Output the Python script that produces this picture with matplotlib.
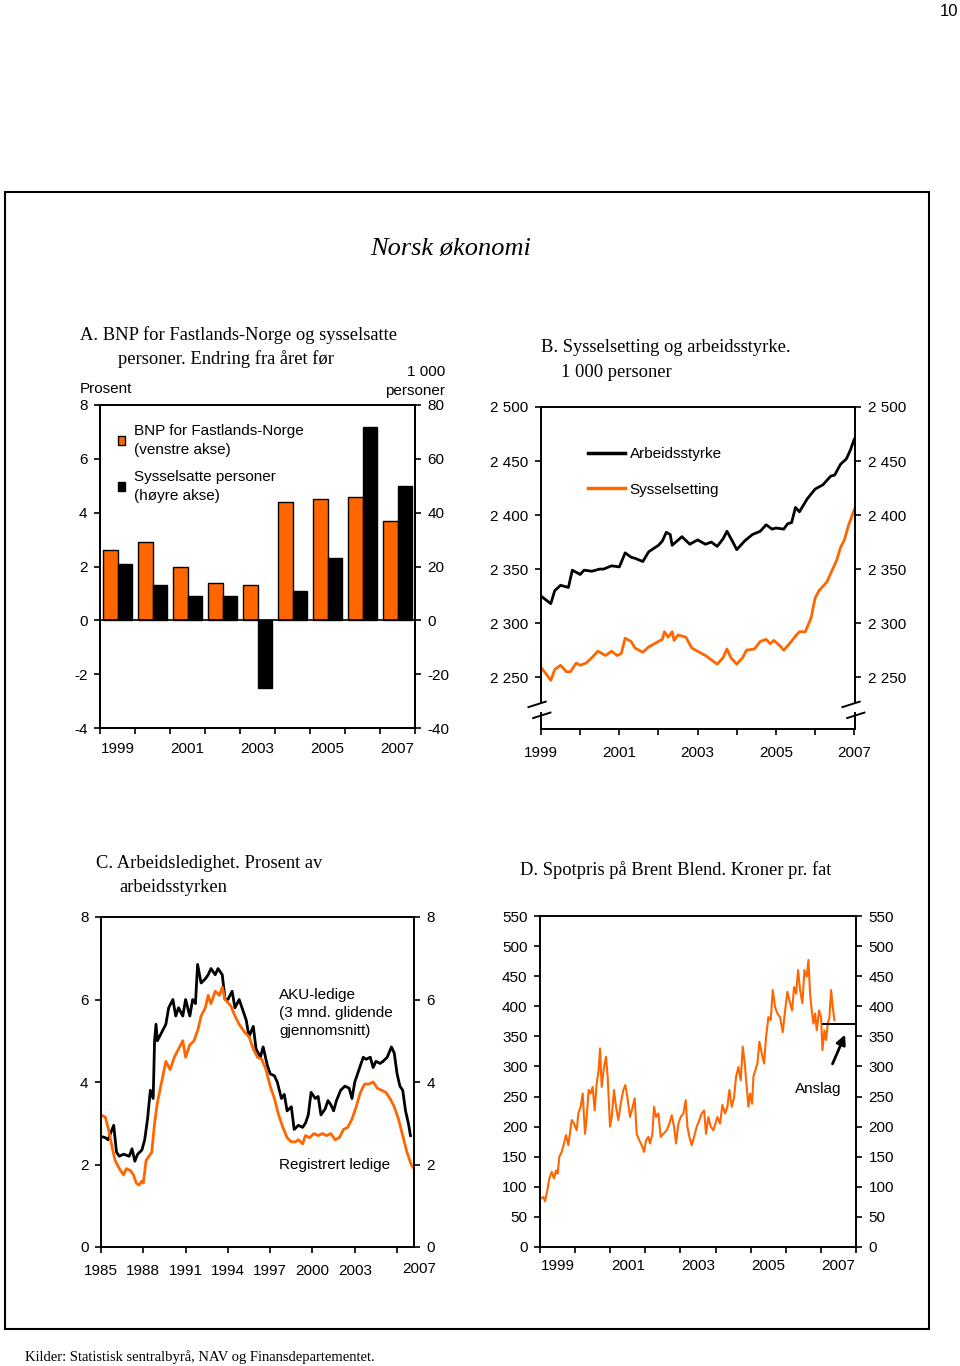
import numpy as np
import matplotlib
matplotlib.use("Agg")
import matplotlib.pyplot as plt
from matplotlib.patches import Patch, Rectangle
from matplotlib.lines import Line2D

W, H = 960, 1366
ORANGE = "#FF6600"
SANS = "Liberation Sans"
SERIF = "Liberation Serif"

# ---- panel A: BNP / sysselsatte, endring fra aaret foer
A_YEARS = ["1999", "2000", "2001", "2002", "2003", "2004", "2005", "2006", "2007"]
A_BNP = [2.6, 2.9, 2.0, 1.4, 1.3, 4.4, 4.5, 4.6, 3.7]
A_SYSS = [21, 13, 9, 9, -25, 11, 23, 72, 50]
A_LEFT_TICKS = [-4, -2, 0, 2, 4, 6, 8]
A_RIGHT_TICKS = [-40, -20, 0, 20, 40, 60, 80]

# ---- panel B: sysselsetting og arbeidsstyrke (1000 personer)
B_ARB_T = [1999.0, 1999.25, 1999.35, 1999.5, 1999.7, 1999.8, 2000.0, 2000.1, 2000.3,
           2000.5, 2000.6, 2000.8, 2001.0, 2001.15, 2001.3, 2001.4, 2001.6, 2001.75,
           2002.0, 2002.1, 2002.2, 2002.3, 2002.35, 2002.6, 2002.8, 2003.0, 2003.2,
           2003.35, 2003.5, 2003.65, 2003.75, 2003.9, 2004.0, 2004.2, 2004.4, 2004.6,
           2004.75, 2004.9, 2005.0, 2005.2, 2005.3, 2005.4, 2005.5, 2005.6, 2005.8,
           2006.0, 2006.2, 2006.4, 2006.5, 2006.65, 2006.8, 2006.9, 2007.0]
B_ARB = [2325, 2318, 2330, 2335, 2333, 2349, 2345, 2349, 2348,
         2350, 2350, 2353, 2352, 2365, 2361, 2360, 2357, 2366,
         2372, 2376, 2384, 2382, 2372, 2380, 2373, 2377, 2373,
         2375, 2371, 2378, 2385, 2375, 2368, 2376, 2382, 2385,
         2391, 2387, 2388, 2387, 2392, 2393, 2407, 2403, 2415,
         2424, 2428, 2436, 2437, 2447, 2452, 2460, 2470]
B_SYS_T = [1999.0, 1999.15, 1999.25, 1999.35, 1999.5, 1999.65, 1999.75, 1999.9, 2000.0,
           2000.15, 2000.3, 2000.45, 2000.65, 2000.8, 2000.95, 2001.05, 2001.15, 2001.3,
           2001.4, 2001.6, 2001.75, 2001.95, 2002.1, 2002.15, 2002.25, 2002.35, 2002.4,
           2002.5, 2002.7, 2002.85, 2003.0, 2003.2, 2003.35, 2003.5, 2003.65, 2003.75,
           2003.85, 2004.0, 2004.15, 2004.25, 2004.45, 2004.6, 2004.75, 2004.85, 2004.95,
           2005.1, 2005.2, 2005.35, 2005.5, 2005.6, 2005.75, 2005.9, 2006.0, 2006.1,
           2006.3, 2006.45, 2006.55, 2006.65, 2006.75, 2006.85, 2007.0]
B_SYS = [2259, 2252, 2247, 2257, 2261, 2255, 2255, 2263, 2261,
         2263, 2268, 2274, 2270, 2274, 2270, 2272, 2286, 2283,
         2277, 2273, 2278, 2282, 2285, 2292, 2287, 2292, 2284,
         2289, 2287, 2277, 2274, 2270, 2266, 2262, 2268, 2276,
         2268, 2262, 2268, 2275, 2276, 2283, 2285, 2281, 2284,
         2279, 2275, 2281, 2288, 2292, 2292, 2305, 2323, 2330,
         2338, 2350, 2358, 2370, 2377, 2390, 2405]
B_TICKS = [2250, 2300, 2350, 2400, 2450, 2500]
B_TICKLABELS = ["2 250", "2 300", "2 350", "2 400", "2 450", "2 500"]
B_YEARS = [1999, 2000, 2001, 2002, 2003, 2004, 2005, 2006, 2007]

# ---- panel C: arbeidsledighet, prosent av arbeidsstyrken
C_AKU_T = [1985.0, 1985.3, 1985.5, 1985.9, 1986.1, 1986.3, 1986.6, 1987.0, 1987.2, 1987.4,
           1987.6, 1987.9, 1988.1, 1988.3, 1988.5, 1988.7, 1988.8, 1988.9, 1989.0, 1989.3,
           1989.6, 1989.8, 1990.1, 1990.3, 1990.5, 1990.8, 1991.0, 1991.3, 1991.5, 1991.7,
           1991.85, 1992.1, 1992.4, 1992.6, 1992.8, 1993.1, 1993.3, 1993.6, 1993.8, 1994.0,
           1994.3, 1994.5, 1994.8, 1995.0, 1995.3, 1995.5, 1995.8, 1996.0, 1996.3, 1996.5,
           1996.8, 1997.0, 1997.3, 1997.5, 1997.8, 1998.0, 1998.2, 1998.5, 1998.7, 1999.0,
           1999.3, 1999.5, 1999.7, 1999.9, 2000.2, 2000.4, 2000.6, 2000.9, 2001.1, 2001.3,
           2001.5, 2001.7, 2002.0, 2002.3, 2002.6, 2002.8, 2003.0, 2003.3, 2003.6, 2003.8,
           2004.1, 2004.3, 2004.5, 2004.8, 2005.0, 2005.3, 2005.6, 2005.8, 2006.0, 2006.2,
           2006.4, 2006.6, 2006.8, 2006.95]
C_AKU = [2.68, 2.65, 2.6, 2.95, 2.3, 2.2, 2.25, 2.2, 2.38, 2.08,
         2.25, 2.35, 2.6, 3.1, 3.8, 3.6, 5.0, 5.4, 5.0, 5.2,
         5.4, 5.8, 6.0, 5.6, 5.8, 5.6, 6.0, 5.6, 6.0, 5.9,
         6.85, 6.4, 6.5, 6.6, 6.75, 6.6, 6.75, 6.6, 6.0, 6.0,
         6.2, 5.8, 6.0, 5.8, 5.5, 5.1, 5.35, 4.8, 4.6, 4.85,
         4.4, 4.2, 4.15, 4.0, 3.6, 3.7, 3.3, 3.4, 2.85, 2.95,
         2.9, 3.0, 3.2, 3.75, 3.6, 3.65, 3.2, 3.35, 3.55, 3.45,
         3.3, 3.55, 3.8, 3.9, 3.85, 3.6, 4.0, 4.3, 4.6, 4.55,
         4.6, 4.35, 4.5, 4.45, 4.5, 4.6, 4.85, 4.7, 4.2, 3.9,
         3.8, 3.3, 3.0, 2.7]
C_REG_T = [1985.0, 1985.3, 1985.5, 1985.8, 1986.0, 1986.3, 1986.6, 1986.8, 1987.1, 1987.3,
           1987.5, 1987.7, 1987.9, 1988.0, 1988.2, 1988.4, 1988.6, 1988.8, 1989.0, 1989.3,
           1989.6, 1989.9, 1990.2, 1990.5, 1990.8, 1991.0, 1991.3, 1991.6, 1991.9, 1992.1,
           1992.4, 1992.6, 1992.8, 1993.1, 1993.4, 1993.6, 1993.8, 1994.2, 1994.5, 1994.8,
           1995.2, 1995.5, 1995.8, 1996.1, 1996.4, 1996.7, 1997.0, 1997.3, 1997.6, 1997.9,
           1998.2, 1998.5, 1998.8, 1999.0, 1999.3, 1999.5, 1999.8, 2000.1, 2000.4, 2000.7,
           2001.0, 2001.3, 2001.6, 2001.9, 2002.2, 2002.5, 2002.8, 2003.1, 2003.4, 2003.7,
           2004.0, 2004.3, 2004.6, 2004.9, 2005.2, 2005.5, 2005.8, 2006.1, 2006.4, 2006.7,
           2007.0, 2007.2]
C_REG = [3.2, 3.15, 2.9, 2.4, 2.1, 1.9, 1.75, 1.9, 1.85, 1.75,
         1.55, 1.5, 1.6, 1.55, 2.1, 2.2, 2.3, 3.0, 3.5, 4.0,
         4.5, 4.3, 4.6, 4.8, 5.0, 4.6, 4.9, 5.0, 5.3, 5.6,
         5.8, 6.1, 5.9, 6.2, 6.1, 6.3, 6.0, 5.85, 5.6, 5.4,
         5.2, 5.1, 4.8, 4.6, 4.55, 4.3, 3.9, 3.6, 3.2, 2.9,
         2.65, 2.55, 2.55, 2.6, 2.5, 2.7, 2.65, 2.75, 2.7, 2.75,
         2.7, 2.75, 2.6, 2.65, 2.85, 2.9, 3.1, 3.4, 3.75, 3.95,
         3.95, 4.0, 3.85, 3.8, 3.75, 3.6, 3.4, 3.1, 2.7, 2.3,
         2.0, 1.9]
C_TICKS = [1985, 1988, 1991, 1994, 1997, 2000, 2003, 2006]
C_TICKLABELS = ["1985", "1988", "1991", "1994", "1997", "2000", "2003", ""]
C_YTICKS = [0, 2, 4, 6, 8]

# ---- panel D: spotpris paa Brent Blend, kroner pr. fat
D_X = [150, 160, 165, 172, 178, 185, 192, 198, 203, 208, 215, 222, 228, 235, 245, 252,
       260, 265, 272, 278, 285, 290, 296, 302, 308, 314, 320, 326, 330, 335, 342, 348,
       353, 360, 365, 372, 378, 385, 392, 400, 406, 412, 420, 428, 434, 440, 448, 455,
       462, 468, 475, 480, 487, 492, 498, 505, 512, 520, 530, 538, 545, 552, 558, 565,
       572, 580, 587, 592, 598, 605, 612, 620, 628, 635, 642, 648, 655, 662, 670, 676,
       682, 690, 697, 705, 712, 718, 725, 732, 738, 745, 752, 758, 764, 770, 775, 780,
       786, 790, 796, 802, 808, 815, 822, 828, 835, 842, 848, 855, 862, 870, 878, 885,
       892, 900, 906, 912, 918, 924, 930, 937, 943, 950, 955, 960, 965, 970, 975, 980,
       987, 993, 997, 1003, 1008, 1013, 1018, 1023, 1028, 1033]
D_T = [1999 + (x - 150) / 105.3 for x in D_X]
D_PRICE = [80, 83, 76, 94, 114, 125, 114, 127, 122, 150, 158, 172, 186, 169, 211, 205,
           194, 222, 233, 255, 188, 216, 261, 255, 266, 227, 272, 294, 330, 266, 299, 316,
           283, 200, 216, 261, 233, 211, 238, 261, 269, 249, 216, 233, 247, 188, 177, 169,
           158, 177, 183, 172, 188, 233, 216, 222, 183, 188, 194, 205, 219, 200, 172, 205,
           216, 222, 244, 200, 183, 169, 183, 200, 211, 222, 227, 188, 216, 200, 194, 205,
           216, 205, 236, 222, 233, 261, 233, 249, 283, 299, 277, 333, 305, 266, 233, 255,
           238, 283, 294, 305, 341, 322, 305, 349, 382, 377, 427, 399, 388, 382, 357, 393,
           424, 405, 393, 432, 421, 460, 427, 405, 460, 449, 477, 421, 393, 371, 388, 360,
           393, 382, 327, 360, 344, 371, 382, 427, 399, 377]
D_ANSLAG_T = [2007.05, 2008.0]
D_ANSLAG = [371, 371]
D_YTICKS = [0, 50, 100, 150, 200, 250, 300, 350, 400, 450, 500, 550]
D_YEARS = [1999, 2001, 2003, 2005, 2007]


def px(x, y):
    return x / W, 1 - y / H


def axes_at(x0, y0, x1, y1):
    return fig.add_axes([x0 / W, 1 - y1 / H, (x1 - x0) / W, (y1 - y0) / H])


def style(ax):
    for s in ax.spines.values():
        s.set_linewidth(1.4)
    ax.tick_params(axis="both", which="major", direction="out", length=4, width=1.2,
                   labelsize=11, pad=5)


plt.rcParams["font.family"] = SANS
plt.rcParams["axes.unicode_minus"] = False
fig = plt.figure(figsize=(W / 100, H / 100), dpi=100)

# page frame, titles
fig.patches.append(Rectangle(px(5, 1329), 924 / W, 1137 / H, transform=fig.transFigure,
                             fill=False, lw=1.5, edgecolor="black"))
fig.text(*px(451, 249), "Norsk økonomi", family=SERIF, style="italic", size=19,
         ha="center", va="center")
fig.text(*px(958, 11), "10", family=SANS, size=12, ha="right", va="center")
fig.text(*px(25, 1357), "Kilder: Statistisk sentralbyrå, NAV og Finansdepartementet.",
         family=SERIF, size=10.5, ha="left", va="center")

TS = 13.3
fig.text(*px(80, 335), "A. BNP for Fastlands-Norge og sysselsatte", family=SERIF, size=TS, va="center")
fig.text(*px(118, 359), "personer. Endring fra året før", family=SERIF, size=TS, va="center")
fig.text(*px(541, 348), "B. Sysselsetting og arbeidsstyrke.", family=SERIF, size=TS, va="center")
fig.text(*px(561, 372), "1 000 personer", family=SERIF, size=TS, va="center")
fig.text(*px(96, 863), "C. Arbeidsledighet. Prosent av", family=SERIF, size=TS, va="center")
fig.text(*px(119, 887), "arbeidsstyrken", family=SERIF, size=TS, va="center")
fig.text(*px(520, 870), "D. Spotpris på Brent Blend. Kroner pr. fat", family=SERIF, size=TS, va="center")

# ---------------- A
axA = axes_at(100, 405, 415, 728)
axA2 = axA.twinx()
idx = np.arange(len(A_YEARS))
axA.bar(idx - 0.21, A_BNP, width=0.42, color=ORANGE, edgecolor="black", linewidth=1, zorder=3)
axA2.bar(idx + 0.21, A_SYSS, width=0.42, color="black", edgecolor="black", linewidth=1, zorder=3)
axA.set_xlim(-0.5, len(A_YEARS) - 0.5)
axA.set_ylim(-4, 8)
axA2.set_ylim(-40, 80)
axA.set_yticks(A_LEFT_TICKS)
axA2.set_yticks(A_RIGHT_TICKS)
axA.axhline(0, color="black", lw=1.2, zorder=4)
axA.set_xticks(np.arange(len(A_YEARS) + 1) - 0.5)
axA.set_xticklabels([])
axA.set_xticks(idx[::2], minor=True)
axA.set_xticklabels(A_YEARS[::2], minor=True)
style(axA)
style(axA2)
axA.tick_params(axis="x", which="minor", length=0, labelsize=11, pad=10)
axA.text(-0.065, 1.028, "Prosent", transform=axA.transAxes, size=11, ha="left", va="bottom")
axA2.text(1.095, 1.022, "1 000\npersoner", transform=axA.transAxes, size=11, ha="right",
          va="bottom", linespacing=1.4)
legA = axA.legend(handles=[Patch(facecolor=ORANGE, edgecolor="black", lw=1),
                           Patch(facecolor="black", edgecolor="black")],
                  labels=["BNP for Fastlands-Norge\n(venstre akse)",
                          "Sysselsatte personer\n(høyre akse)"],
                  loc="upper left", bbox_to_anchor=(0.012, 0.985), frameon=False,
                  handlelength=0.5, handleheight=0.5, handletextpad=0.6,
                  labelspacing=0.9, fontsize=11)
for t in legA.get_texts():
    t.set_linespacing(1.45)

# ---------------- B
axB = axes_at(541, 407, 855, 729)
axB.plot(B_ARB_T, B_ARB, color="black", lw=2)
axB.plot(B_SYS_T, B_SYS, color=ORANGE, lw=2)
axB.set_xlim(1999, 2007.02)
axB.set_ylim(2202, 2500)
axB.set_yticks(B_TICKS)
axB.set_yticklabels(B_TICKLABELS)
axB.set_xticks(B_YEARS)
axB.set_xticklabels([str(y) if (y - 1999) % 2 == 0 else "" for y in B_YEARS])
axB.tick_params(right=True, labelright=True)
style(axB)
axB.tick_params(axis="x", pad=8)
axB.spines["left"].set_visible(False)
axB.spines["right"].set_visible(False)
for xs in (0.0, 1.0):
    axB.plot([xs, xs], [0.0, 0.05], transform=axB.transAxes, color="black", lw=1.4, clip_on=False)
    axB.plot([xs, xs], [0.083, 1.0], transform=axB.transAxes, color="black", lw=1.4, clip_on=False)
    axB.plot([xs - 0.04, xs + 0.015], [0.068, 0.085], transform=axB.transAxes, color="black",
             lw=1.4, clip_on=False)
    axB.plot([xs - 0.025, xs + 0.03], [0.034, 0.051], transform=axB.transAxes, color="black",
             lw=1.4, clip_on=False)
axB.legend(handles=[Line2D([], [], color="black", lw=2.5), Line2D([], [], color=ORANGE, lw=2.5)],
           labels=["Arbeidsstyrke", "Sysselsetting"], loc="upper left",
           bbox_to_anchor=(0.107, 0.918), frameon=False, handlelength=2.4,
           handletextpad=0.3, labelspacing=1.4, fontsize=11)

# ---------------- C
axC = axes_at(101, 917, 414, 1247)
axC.plot(C_AKU_T, C_AKU, color="black", lw=2)
axC.plot(C_REG_T, C_REG, color=ORANGE, lw=2)
axC.set_xlim(1985, 2007.2)
axC.set_ylim(0, 8)
axC.set_yticks(C_YTICKS)
axC.set_xticks(C_TICKS)
axC.set_xticklabels(C_TICKLABELS)
axC.tick_params(right=True, labelright=True)
style(axC)
axC.tick_params(axis="x", pad=8)
axC.text(1.015, -0.045, "2007", transform=axC.transAxes, size=11, ha="center", va="top")
axC.text(0.57, 0.785, "AKU-ledige\n(3 mnd. glidende\ngjennomsnitt)", transform=axC.transAxes,
         size=11, ha="left", va="top", linespacing=1.35)
axC.text(0.57, 0.25, "Registrert ledige", transform=axC.transAxes, size=11,
         ha="left", va="center")

# ---------------- D
axD = axes_at(540, 916, 856, 1247)
axD.plot(D_T, D_PRICE, color=ORANGE, lw=1.5)
axD.plot(D_ANSLAG_T, D_ANSLAG, color="black", lw=1.4)
axD.set_xlim(1999, 2008)
axD.set_ylim(0, 550)
axD.set_yticks(D_YTICKS)
axD.set_xticks(np.arange(1999, 2009))
axD.set_xticklabels([])
axD.set_xticks([y + 0.5 for y in D_YEARS], minor=True)
axD.set_xticklabels([str(y) for y in D_YEARS], minor=True)
axD.tick_params(right=True, labelright=True)
style(axD)
axD.tick_params(axis="x", which="minor", length=0, labelsize=11, pad=9)
axD.annotate("", xy=(2007.72, 357), xytext=(2007.3, 300),
             arrowprops=dict(arrowstyle="-|>", color="black", lw=2, mutation_scale=14))
axD.text(2006.93, 262, "Anslag", size=11, ha="center", va="center")

fig.savefig("out.png", dpi=100)
